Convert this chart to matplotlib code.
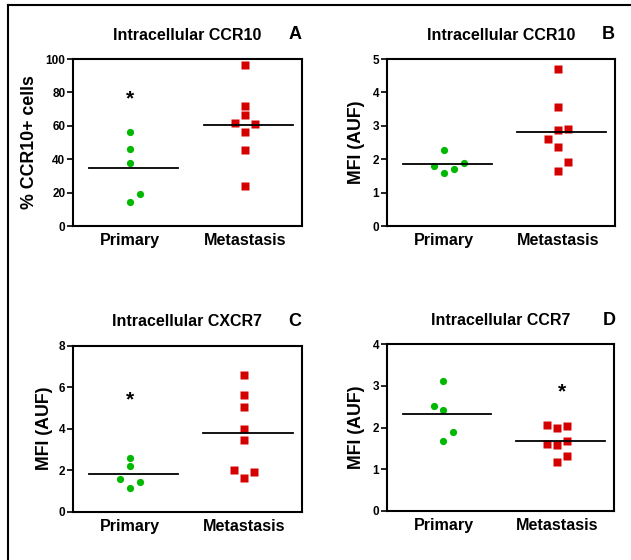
import numpy as np
import matplotlib
matplotlib.use('Agg')
import matplotlib.pyplot as plt
from matplotlib.lines import Line2D

plt.rcParams['font.family'] = ['Liberation Sans', 'DejaVu Sans']
plt.rcParams['font.weight'] = 'bold'

groups = ['Primary', 'Metastasis']

# panel A: % CCR10+ cells
a_prim = [56.4, 46.2, 37.6, 19.2, 14.2]
a_prim_dx = [0, 0, 0, 1, 0]
a_meta = [96.4, 71.8, 66.2, 61.4, 60.8, 56.4, 45.4, 24.2]
a_meta_dx = [0, 0, 0, -1, 1, 0, 0, 0]

# panel B: CCR10 MFI
b_prim = [2.28, 1.81, 1.88, 1.70, 1.58]
b_prim_dx = [0, -1, 2, 1, 0]
b_meta = [4.69, 3.55, 2.91, 2.86, 2.61, 2.38, 1.91, 1.65]
b_meta_dx = [0, 0, 1, 0, -1, 0, 1, 0]

# panel C: CXCR7 MFI
c_prim = [2.57, 2.22, 1.56, 1.45, 1.16]
c_prim_dx = [0, 0, -1, 1, 0]
c_meta = [6.59, 5.64, 5.03, 4.00, 3.45, 2.01, 1.90, 1.64]
c_meta_dx = [0, 0, 0, 0, 0, -1, 1, 0]

# panel D: CCR7 MFI
d_prim = [3.13, 2.51, 2.43, 1.90, 1.68]
d_prim_dx = [0, -1, 0, 1, 0]
d_meta = [2.07, 1.99, 2.03, 1.68, 1.61, 1.59, 1.31, 1.18]
d_meta_dx = [-1, 0, 1, 1, -1, 0, 1, 0]

green = '#00b800'
red = '#d40000'
jit = 0.087


def panel(ax, prim, pdx, meta, mdx, ymax, step, ylabel, title, letter,
          star, label_x, letter_x):
    ax.plot(1 + jit * np.array(pdx), prim, 'o', color=green, ms=5.2, mec='none')
    ax.plot(2 + jit * np.array(mdx), meta, 's', color=red, ms=5.6, mec='none')
    for pos, vals in zip([1, 2], [prim, meta]):
        m = np.mean(vals)
        ax.plot([pos - 0.36, pos + 0.42], [m, m], color='black', lw=1.3)
    if star is not None:
        ax.text(star[0], star[1], '*', ha='center', va='center',
                fontsize=15, fontweight='bold')
    ax.set_xlim(0.5, 2.5)
    ax.set_ylim(0, ymax)
    ax.set_yticks(np.arange(0, ymax + step / 2, step))
    ax.set_xticks([1, 2])
    ax.set_xticklabels(groups, fontsize=11.6, fontweight='bold')
    ax.tick_params(axis='x', length=0, pad=5)
    ax.tick_params(axis='y', length=4, width=1.2, labelsize=8.5, pad=1.5)
    for lbl in ax.get_yticklabels():
        lbl.set_fontweight('bold')
    for sp in ax.spines.values():
        sp.set_linewidth(1.5)
    ax.set_ylabel(ylabel, fontsize=12.8, fontweight='bold')
    ax.yaxis.set_label_coords(label_x, 0.5)
    ax.set_title(title, fontsize=11.5, fontweight='bold', pad=14)
    ax.text(letter_x, 1.145, letter, transform=ax.transAxes, ha='center',
            va='center', fontsize=13, fontweight='bold')


fig = plt.figure(figsize=(6.31, 5.60), dpi=100)

axA = fig.add_axes([0.1157, 0.5964, 0.3629, 0.2982])
axB = fig.add_axes([0.6133, 0.5964, 0.3613, 0.2982])
axC = fig.add_axes([0.1152, 0.0863, 0.3629, 0.2964])
axD = fig.add_axes([0.6128, 0.0880, 0.3602, 0.2971])

panel(axA, a_prim, a_prim_dx, a_meta, a_meta_dx, 100, 20, '% CCR10+ cells',
      'Intracellular CCR10', 'A', (1, 76), -0.153, 0.969)
panel(axB, b_prim, b_prim_dx, b_meta, b_meta_dx, 5, 1, 'MFI (AUF)',
      'Intracellular CCR10', 'B', None, -0.096, 0.969)
panel(axC, c_prim, c_prim_dx, c_meta, c_meta_dx, 8, 2, 'MFI (AUF)',
      'Intracellular CXCR7', 'C', (1, 5.4), -0.086, 0.971)
panel(axD, d_prim, d_prim_dx, d_meta, d_meta_dx, 4, 1, 'MFI (AUF)',
      'Intracellular CCR7', 'D', (2.04, 2.86), -0.095, 0.978)

# outer frame (only top and left edges fall inside the image)
fig.add_artist(Line2D([8 / 631, 8 / 631], [0, 1 - 5 / 560], color='black', lw=1.5))
fig.add_artist(Line2D([8 / 631, 1], [1 - 5 / 560, 1 - 5 / 560], color='black', lw=1.5))

fig.savefig('out.png', dpi=100)
